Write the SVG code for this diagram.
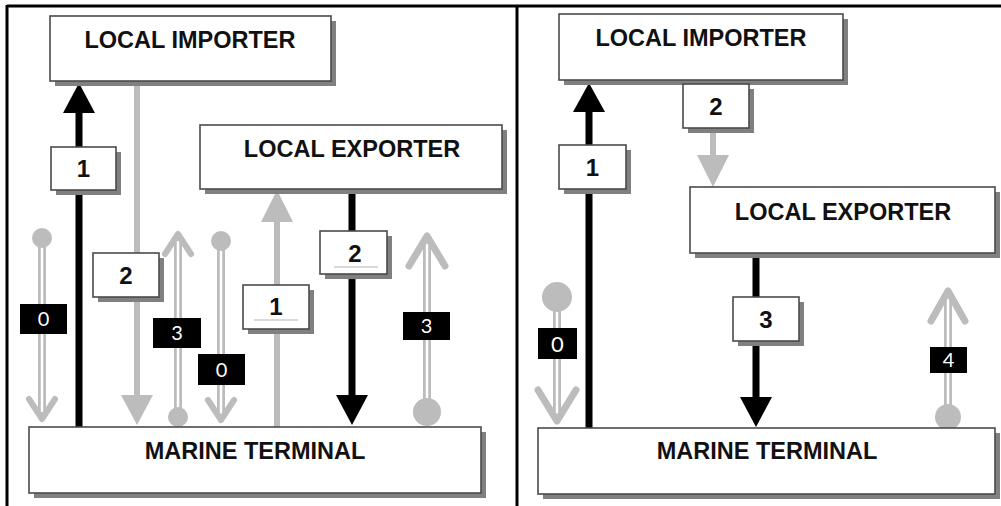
<svg xmlns="http://www.w3.org/2000/svg" width="1001" height="506" viewBox="0 0 1001 506">
<style>
.box{fill:#fff;stroke:#4a4a4a;stroke-width:1.6}
.shd{fill:#808080}
.title{font-family:"Liberation Sans",Arial,sans-serif;font-weight:bold;font-size:23.5px;fill:#111;text-anchor:middle}
.num{font-family:"Liberation Sans",Arial,sans-serif;font-weight:bold;font-size:24px;fill:#111;text-anchor:middle}
.bnum{font-family:Lato,"Open Sans",sans-serif;font-size:20px;fill:#fff;text-anchor:middle}
.blk{fill:#000}
.sol{stroke:#000;stroke-width:7;fill:none}
.gsol{stroke:#bcbcbc;stroke-width:6;fill:none}
.dbl{stroke:#bcbcbc;stroke-width:8;fill:none}
.dblw{stroke:#fff;stroke-width:2.5;fill:none}
.chev{stroke:#bcbcbc;stroke-width:6;fill:none;stroke-linecap:round;stroke-linejoin:round}
.dot{fill:#bcbcbc}
.frame{stroke:#000;stroke-width:3;fill:none}
</style>
<g id="frame">
<line class="frame" x1="7" y1="6" x2="1001" y2="6"/>
<line class="frame" x1="7" y1="5" x2="7" y2="506"/>
<line class="frame" x1="517" y1="5" x2="517" y2="506"/>
</g>
<g id="connectors">
<line class="sol" x1="79" y1="428" x2="79" y2="110"/>
<polygon class="blk" points="63,113 95,113 79,83"/>
<line class="gsol" x1="137" y1="81" x2="137" y2="398"/>
<polygon fill="#bcbcbc" points="121,395 153,395 137,425"/>
<line class="gsol" x1="277" y1="428" x2="277" y2="220"/>
<polygon fill="#bcbcbc" points="261,222 293,222 277,190"/>
<line class="sol" x1="352" y1="190" x2="352" y2="398"/>
<polygon class="blk" points="336,395 368,395 352,425"/>
<line class="dbl" x1="42" y1="240" x2="42" y2="416"/>
<line class="dblw" x1="42" y1="246" x2="42" y2="412"/>
<polyline class="chev" points="29,399 42,419 55,399"/>
<circle class="dot" cx="42" cy="238" r="10"/>
<line class="dbl" x1="178" y1="237" x2="178" y2="415"/>
<line class="dblw" x1="178" y1="241" x2="178" y2="410"/>
<polyline class="chev" points="165,254 178,234 191,254"/>
<circle class="dot" cx="178" cy="417" r="10"/>
<line class="dbl" x1="221" y1="243" x2="221" y2="418"/>
<line class="dblw" x1="221" y1="249" x2="221" y2="414"/>
<polyline class="chev" points="208,400 221,420 234,400"/>
<circle class="dot" cx="221" cy="241" r="10"/>
<line class="dbl" x1="427" y1="240" x2="427" y2="410"/>
<line class="dblw" x1="427" y1="244" x2="427" y2="402"/>
<polyline class="chev" style="stroke-width:7" points="409,266 427,236 445,266"/>
<circle class="dot" cx="427" cy="412" r="14"/>
<line class="sol" x1="589" y1="429" x2="589" y2="110"/>
<polygon class="blk" points="573,112 605,112 589,83"/>
<line class="gsol" x1="713" y1="80" x2="713" y2="158"/>
<polygon fill="#bcbcbc" points="697,155 729,155 713,187"/>
<line class="sol" x1="756" y1="253" x2="756" y2="400"/>
<polygon class="blk" points="740,397 772,397 756,427"/>
<line class="dbl" x1="557" y1="300" x2="557" y2="418"/>
<line class="dblw" x1="557" y1="308" x2="557" y2="414"/>
<polyline class="chev" style="stroke-width:7" points="538,390 557,421 576,390"/>
<circle class="dot" cx="557" cy="297" r="15"/>
<line class="dbl" x1="948" y1="294" x2="948" y2="415"/>
<line class="dblw" x1="948" y1="298" x2="948" y2="408"/>
<polyline class="chev" style="stroke-width:7" points="931,321 948,291 965,321"/>
<circle class="dot" cx="948" cy="417" r="13"/>
</g>
<g id="left-importer">
<rect class="shd" x="55" y="21" width="281" height="65"/>
<rect class="box" x="50" y="16" width="281" height="65"/>
<text class="title" x="190" y="48">LOCAL IMPORTER</text>
</g>
<g id="left-exporter">
<rect class="shd" x="205" y="130" width="302" height="64"/>
<rect class="box" x="200" y="125" width="302" height="64"/>
<text class="title" x="352" y="157">LOCAL EXPORTER</text>
</g>
<g id="left-terminal">
<rect class="shd" x="34" y="432" width="452" height="66"/>
<rect class="box" x="29" y="427" width="452" height="66"/>
<text class="title" x="255" y="459">MARINE TERMINAL</text>
</g>
<g id="right-importer">
<rect class="shd" x="564" y="19" width="284" height="66"/>
<rect class="box" x="559" y="14" width="284" height="66"/>
<text class="title" x="701" y="46">LOCAL IMPORTER</text>
</g>
<g id="right-exporter">
<rect class="shd" x="695" y="192" width="305" height="66"/>
<rect class="box" x="690" y="187" width="305" height="66"/>
<text class="title" x="843" y="220">LOCAL EXPORTER</text>
</g>
<g id="right-terminal">
<rect class="shd" x="543" y="433" width="457" height="66"/>
<rect class="box" x="538" y="428" width="457" height="66"/>
<text class="title" x="767" y="459">MARINE TERMINAL</text>
</g>
<g id="label-l1">
<rect class="shd" x="56" y="152" width="65" height="43"/>
<rect class="box" x="51" y="147" width="65" height="43"/>
<text class="num" x="83.5" y="177">1</text>
</g>
<g id="label-l2">
<rect class="shd" x="98" y="258" width="66" height="44"/>
<rect class="box" x="93" y="253" width="66" height="44"/>
<text class="num" x="126" y="284">2</text>
</g>
<g id="label-l1b">
<rect class="shd" x="248" y="290" width="66" height="44"/>
<rect class="box" x="243" y="285" width="66" height="44"/>
<line x1="254" y1="320" x2="298" y2="320" stroke="#ccc" stroke-width="1.5"/>
<text class="num" x="276" y="315">1</text>
</g>
<g id="label-l2b">
<rect class="shd" x="325" y="236" width="67" height="43"/>
<rect class="box" x="320" y="231" width="67" height="43"/>
<line x1="334" y1="267" x2="378" y2="267" stroke="#ccc" stroke-width="1.5"/>
<text class="num" x="355" y="262">2</text>
</g>
<g id="label-l0a">
<rect class="blk" x="20" y="304" width="47" height="30"/>
<text class="bnum" x="43.5" y="326">0</text>
</g>
<g id="label-l3a">
<rect class="blk" x="153" y="318" width="48" height="30"/>
<text class="bnum" x="177" y="340">3</text>
</g>
<g id="label-l0b">
<rect class="blk" x="198" y="354" width="47" height="31"/>
<text class="bnum" x="221.5" y="377">0</text>
</g>
<g id="label-l3b">
<rect class="blk" x="403" y="312" width="47" height="28"/>
<text class="bnum" x="426.5" y="333">3</text>
</g>
<g id="label-r1">
<rect class="shd" x="564" y="150" width="67" height="44"/>
<rect class="box" x="559" y="145" width="67" height="44"/>
<text class="num" x="592.5" y="176">1</text>
</g>
<g id="label-r2">
<rect class="shd" x="688" y="89" width="66" height="44"/>
<rect class="box" x="683" y="84" width="66" height="44"/>
<text class="num" x="716" y="115">2</text>
</g>
<g id="label-r3">
<rect class="shd" x="738" y="302" width="66" height="44"/>
<rect class="box" x="733" y="297" width="66" height="44"/>
<text class="num" x="766" y="328">3</text>
</g>
<g id="label-r0">
<rect class="blk" x="538" y="328" width="39" height="31"/>
<text class="bnum" x="557.5" y="352" style="font-size:22px">0</text>
</g>
<g id="label-r4">
<rect class="blk" x="930" y="347" width="37" height="26"/>
<text class="bnum" x="948.5" y="367">4</text>
</g>
</svg>
